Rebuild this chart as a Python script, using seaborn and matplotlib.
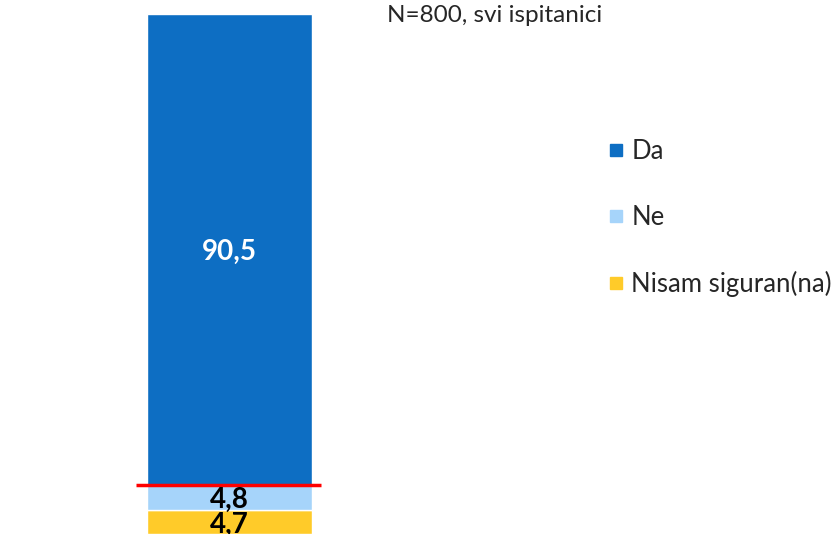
import matplotlib.pyplot as plt
import seaborn as sns
import pandas as pd
from matplotlib.lines import Line2D

# podaci
categories = ['Da', 'Ne', 'Nisam siguran(na)']
values = [90.5, 4.8, 4.7]
labels = ['90,5', '4,8', '4,7']
colors = {'Da': '#0D6EC3', 'Ne': '#A6D4FA', 'Nisam siguran(na)': '#FFCB29'}

df = pd.DataFrame({'grupa': ['sve'] * 3, 'odgovor': categories, 'posto': values})

sns.set_style('white')
plt.rcParams['font.family'] = ['Lato', 'DejaVu Sans']

fig = plt.figure(figsize=(8.38, 5.34), dpi=100)
ax = fig.add_axes([0, 0, 1, (534 - 14) / 534])

# slaganje odozdo: Nisam siguran(na), Ne, Da
bottom = 0
stack_order = list(reversed(range(len(categories))))
for i in stack_order:
    row = df.iloc[[i]]
    sns.barplot(data=row, x='grupa', y='posto', color=colors[categories[i]], saturation=1,
                bottom=bottom, width=0.8, edgecolor='white', linewidth=1, ax=ax)
    txt_color = 'white' if categories[i] == 'Da' else 'black'
    ax.text(0, bottom + values[i] / 2 - 0.5, labels[i], ha='center', va='center',
            color=txt_color, fontsize=20, fontweight='bold')
    bottom += values[i]

# crvena linija iznad "Ne"
red_y = values[1] + values[2]
ax.plot([-0.455, 0.445], [red_y, red_y], color='#FF0000', lw=2.5, solid_capstyle='butt')

# x: bar center at 229.5 px, 206.25 px per unit
ppu = 165 / 0.8
ax.set_xlim(-229.5 / ppu, (838 - 229.5) / ppu)
ax.set_ylim(0, 100)
ax.axis('off')

fig.text(387 / 838, 1 - 16 / 534, 'N=800, svi ispitanici', ha='left', va='center', fontsize=17.5)

handles = [Line2D([0], [0], marker='s', linestyle='', markersize=9,
                  markerfacecolor=colors[c], markeredgecolor=colors[c]) for c in categories]
fig.legend(handles, categories, loc='upper left', bbox_to_anchor=(603 / 838, 1 - 139 / 534),
           frameon=False, fontsize=18.5, labelspacing=1.6, handletextpad=0.1,
           handlelength=1.0, borderaxespad=0, borderpad=0)

fig.savefig('out.png', dpi=100)
